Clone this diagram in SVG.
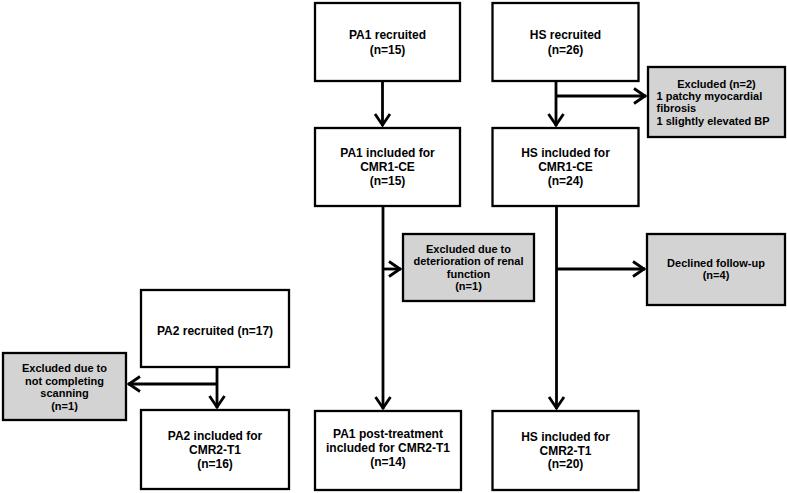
<svg xmlns="http://www.w3.org/2000/svg" width="787" height="493" viewBox="0 0 787 493">
<style>
.box{fill:#ffffff;stroke:#000;stroke-width:2.3}
.gbox{fill:#d3d3d3;stroke:#000;stroke-width:2.3}
.t{font-family:"Liberation Sans",Arial,sans-serif;font-weight:bold;font-size:12px;fill:#000;text-anchor:middle}
.s{font-family:"Liberation Sans",Arial,sans-serif;font-weight:bold;font-size:11px;fill:#000;text-anchor:middle}
.l{text-anchor:start}
.c{fill:none;stroke:#000;stroke-width:2.8}
</style>
<defs>
<marker id="ah" markerUnits="userSpaceOnUse" markerWidth="26" markerHeight="26" viewBox="-13 -13 26 26" refX="1" refY="0" orient="auto">
<path d="M-11,-7.5 L0,0 L-11,7.5" fill="none" stroke="#000" stroke-width="2.8" stroke-linejoin="miter"/>
</marker>
</defs>
<rect width="787" height="493" fill="#ffffff"/>
<g id="connectors">
<line class="c" x1="382.5" y1="81" x2="382.5" y2="126" marker-end="url(#ah)"/>
<line class="c" x1="556" y1="81" x2="556" y2="126" marker-end="url(#ah)"/>
<line class="c" x1="556" y1="96" x2="646" y2="96" marker-end="url(#ah)"/>
<line class="c" x1="383" y1="206" x2="383" y2="409" marker-end="url(#ah)"/>
<line class="c" x1="383" y1="269" x2="401" y2="269" marker-end="url(#ah)"/>
<line class="c" x1="556.5" y1="206" x2="556.5" y2="409" marker-end="url(#ah)"/>
<line class="c" x1="556.5" y1="269" x2="645" y2="269" marker-end="url(#ah)"/>
<line class="c" x1="217" y1="367" x2="217" y2="408" marker-end="url(#ah)"/>
<line class="c" x1="217" y1="384" x2="128" y2="384" marker-end="url(#ah)"/>
</g>
<g id="pa1-recruited">
<rect class="box" x="315" y="3" width="145" height="78"/>
<text class="t" x="387.5" y="38.5">PA1 recruited</text>
<text class="t" x="387.5" y="53.5">(n=15)</text>
</g>
<g id="hs-recruited">
<rect class="box" x="492.5" y="3" width="146" height="78"/>
<text class="t" x="565.5" y="38.5">HS recruited</text>
<text class="t" x="565.5" y="53.5">(n=26)</text>
</g>
<g id="excluded-hs">
<rect class="gbox" x="648" y="67" width="137" height="70"/>
<text class="s" x="716.5" y="87.5">Excluded (n=2)</text>
<text class="s l" x="656.5" y="99.5">1 patchy myocardial</text>
<text class="s l" x="656.5" y="112">fibrosis</text>
<text class="s l" x="656.5" y="124.5">1 slightly elevated BP</text>
</g>
<g id="pa1-included">
<rect class="box" x="315" y="128" width="145" height="78"/>
<text class="t" x="387.5" y="157">PA1 included for</text>
<text class="t" x="387.5" y="171">CMR1-CE</text>
<text class="t" x="387.5" y="185">(n=15)</text>
</g>
<g id="hs-included">
<rect class="box" x="492.5" y="128" width="146" height="78"/>
<text class="t" x="565.5" y="157">HS included for</text>
<text class="t" x="565.5" y="171">CMR1-CE</text>
<text class="t" x="565.5" y="185">(n=24)</text>
</g>
<g id="excluded-renal">
<rect class="gbox" x="403" y="234" width="131" height="67"/>
<text class="s" x="468.5" y="252.5">Excluded due to</text>
<text class="s" x="468.5" y="265">deterioration of renal</text>
<text class="s" x="468.5" y="277.5">function</text>
<text class="s" x="468.5" y="290">(n=1)</text>
</g>
<g id="declined">
<rect class="gbox" x="647" y="234" width="138" height="71"/>
<text class="s" x="716" y="266.5">Declined follow-up</text>
<text class="s" x="716" y="279">(n=4)</text>
</g>
<g id="pa2-recruited">
<rect class="box" x="141" y="290" width="148" height="77"/>
<text class="t" x="215" y="335">PA2 recruited (n=17)</text>
</g>
<g id="excluded-scanning">
<rect class="gbox" x="3" y="353" width="123" height="67"/>
<text class="s" x="64.5" y="372">Excluded due to</text>
<text class="s" x="64.5" y="384.5">not completing</text>
<text class="s" x="64.5" y="397">scanning</text>
<text class="s" x="64.5" y="409.5">(n=1)</text>
</g>
<g id="pa2-included">
<rect class="box" x="141" y="410" width="148" height="79"/>
<text class="t" x="215" y="439.5">PA2 included for</text>
<text class="t" x="215" y="453.5">CMR2-T1</text>
<text class="t" x="215" y="467.5">(n=16)</text>
</g>
<g id="pa1-post">
<rect class="box" x="315" y="411" width="146" height="79"/>
<text class="t" x="388" y="437.5">PA1 post-treatment</text>
<text class="t" x="388" y="451.5">included for CMR2-T1</text>
<text class="t" x="388" y="465.5">(n=14)</text>
</g>
<g id="hs-cmr2">
<rect class="box" x="492.5" y="411" width="146" height="79"/>
<text class="t" x="565.5" y="440.5">HS included for</text>
<text class="t" x="565.5" y="454.5">CMR2-T1</text>
<text class="t" x="565.5" y="468">(n=20)</text>
</g>
</svg>
